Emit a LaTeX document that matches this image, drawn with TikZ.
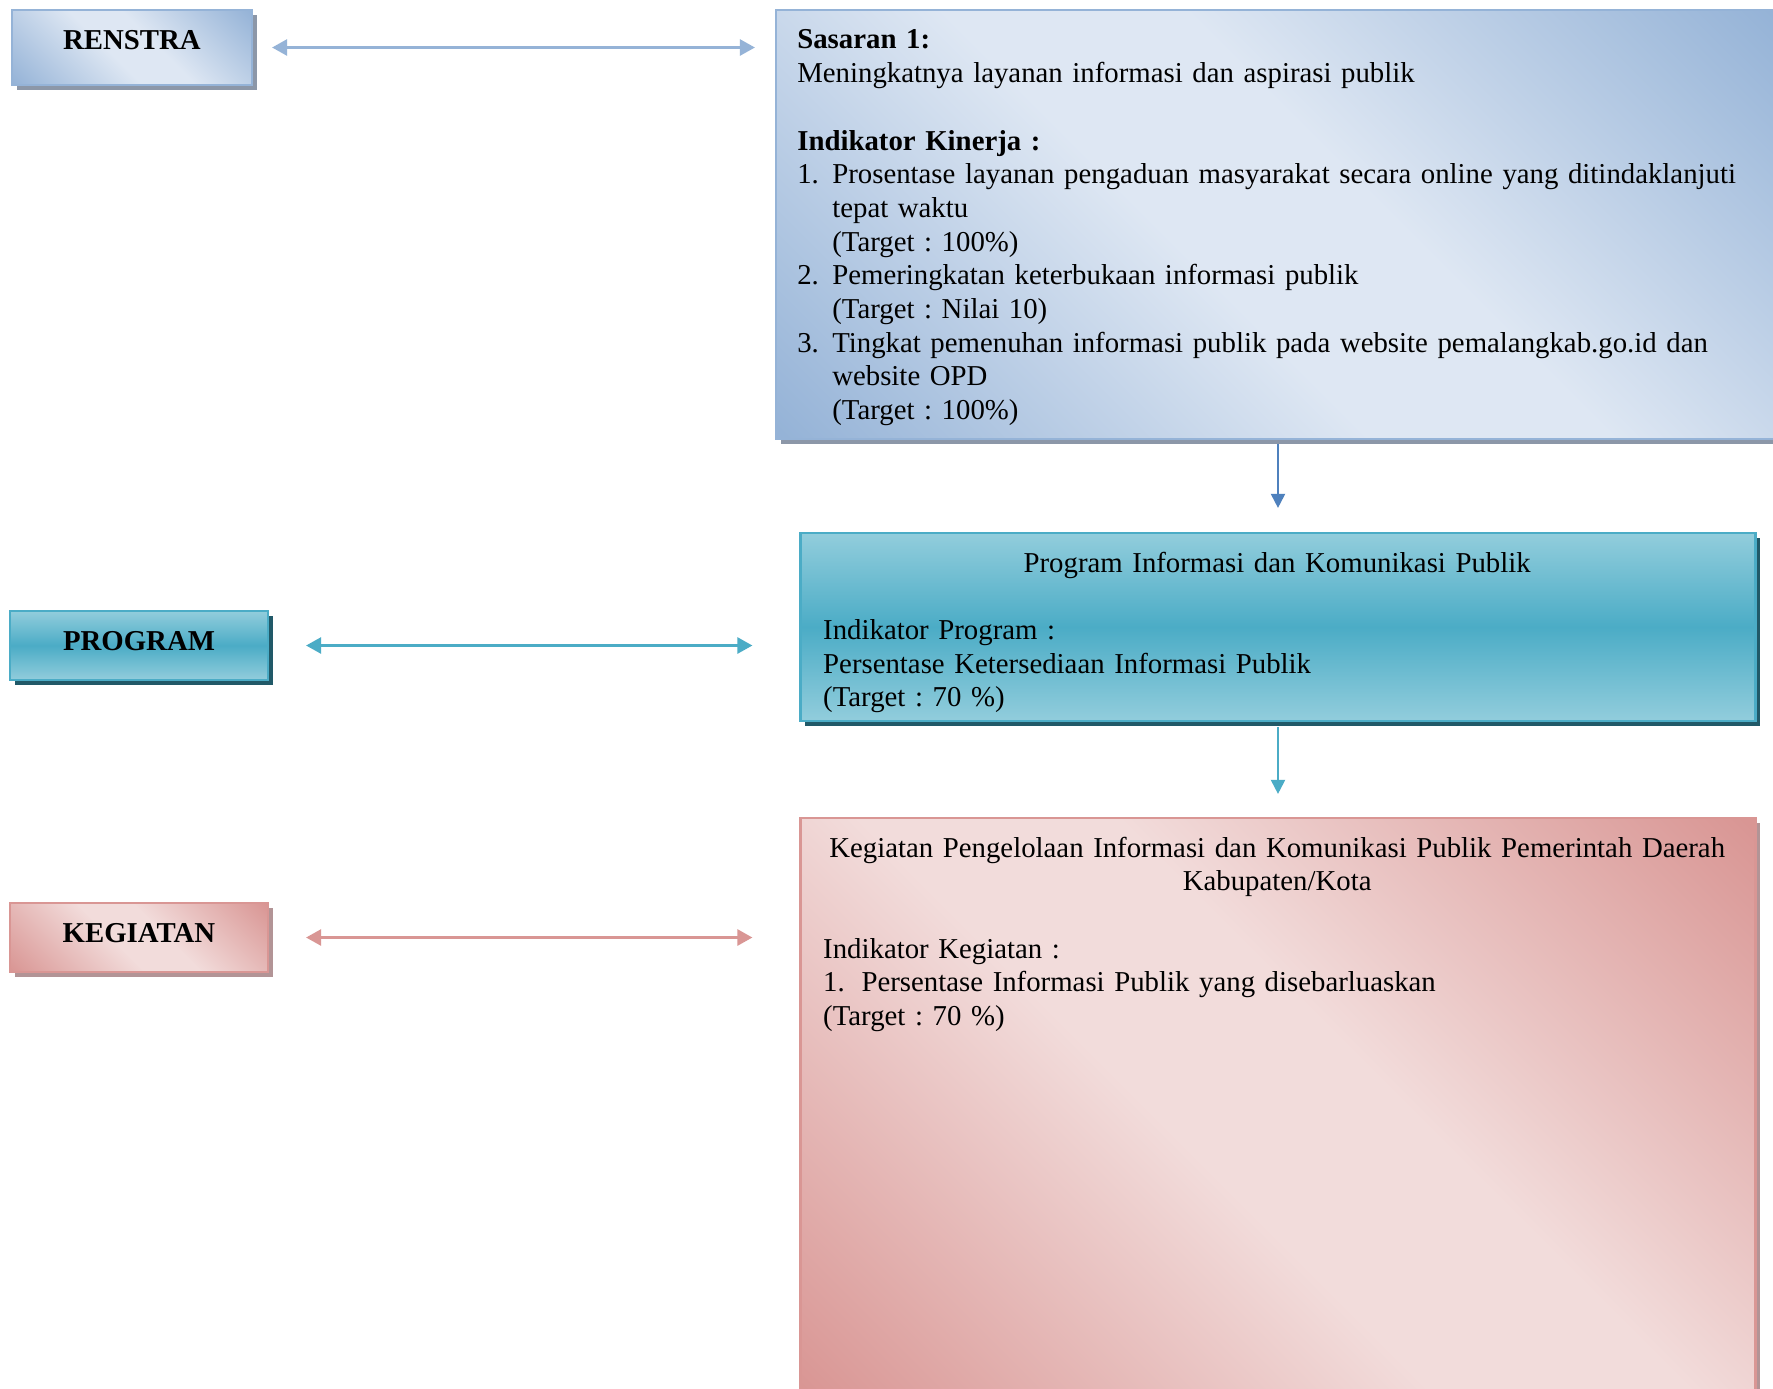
\documentclass[tikz,border=0pt]{standalone}
\usepackage{fontspec}
\setmainfont{Liberation Serif}
\usetikzlibrary{arrows.meta, shadows, calc}

\definecolor{renblue}{RGB}{149,179,215}
\definecolor{renlight}{RGB}{222,231,243}
\definecolor{rendeep}{RGB}{79,129,189}
\definecolor{renshadow}{RGB}{140,151,168}
\definecolor{progteal}{RGB}{75,172,198}
\definecolor{proglight}{RGB}{146,205,220}
\definecolor{progshadow}{RGB}{33,89,104}
\definecolor{kegpink}{RGB}{217,150,148}
\definecolor{keglight}{RGB}{242,220,219}
\definecolor{kegshadow}{RGB}{178,148,150}

\pgfdeclarehorizontalshading{renshade}{100bp}{color(0bp)=(renblue); color(15bp)=(renblue); color(44bp)=(renlight); color(56bp)=(renlight); color(85bp)=(renblue); color(100bp)=(renblue)}
\pgfdeclarehorizontalshading{kegshade}{100bp}{color(0bp)=(kegpink); color(15bp)=(kegpink); color(44bp)=(keglight); color(56bp)=(keglight); color(85bp)=(kegpink); color(100bp)=(kegpink)}
\pgfdeclareverticalshading{progshade}{100bp}{color(0bp)=(proglight); color(25bp)=(proglight); color(50bp)=(progteal); color(75bp)=(proglight); color(100bp)=(proglight)}

\begin{document}
\begin{tikzpicture}[x=0.5pt, y=-0.5pt,
    font=\fontsize{14.4pt}{16.85pt}\selectfont\frenchspacing,
    tab/.style={draw, line width=1.1pt, inner sep=0pt, font=\fontsize{14.4pt}{16.85pt}\selectfont\bfseries, text height=10pt, text depth=8pt},
    lowtab/.style={tab, text height=12pt, text depth=7.5pt},
    panel/.style={draw, line width=1.1pt, inner sep=0pt},
    renbox/.style={shade, shading=renshade, shading angle=45, draw=renblue, drop shadow={shadow xshift=2.3pt, shadow yshift=-2.3pt, fill=renshadow, opacity=1}},
    progbox/.style={shade, shading=progshade, draw=progteal, drop shadow={shadow xshift=2.3pt, shadow yshift=-2.3pt, fill=progshadow, opacity=1}},
    kegbox/.style={shade, shading=kegshade, shading angle=45, draw=kegpink, drop shadow={shadow xshift=2.3pt, shadow yshift=-2.3pt, fill=kegshadow, opacity=1}},
    boxtext/.style={anchor=north west, inner sep=0pt, align=left},
    link/.style={{Triangle[length=7.5pt,width=8pt]}-{Triangle[length=7.5pt,width=8pt]}, line width=1.3pt},
    flowdown/.style={-{Triangle[length=7pt,width=7pt]}, line width=1pt}]

    \useasboundingbox[fill=white] (0,0) rectangle (1773,1388);

    % Level labels
    \node[tab, renbox, minimum width=120pt, minimum height=37.5pt] (renstra) at (132,47.5) {RENSTRA};
    \node[lowtab, progbox, minimum width=129pt, minimum height=34.5pt] (program) at (139,645.5) {PROGRAM};
    \node[lowtab, kegbox, minimum width=129pt, minimum height=34.5pt] (kegiatan) at (139,937.5) {KEGIATAN};

    % Sasaran
    \node[panel, renbox, minimum width=502pt, minimum height=214.5pt] (sasaran) at (1278,224.5) {};
    \node[boxtext, text width=490pt] (sastext) at ([xshift=11pt, yshift=-10.3pt]sasaran.north west) {\parindent=0pt
        \textbf{Sasaran 1:}\\
        Meningkatnya layanan informasi dan aspirasi publik\\[16.85pt]
        \textbf{Indikator Kinerja :}\par
        {\leftskip=17.5pt \leavevmode\llap{\makebox[17.5pt][l]{1.}}Prosentase layanan pengaduan masyarakat secara online yang ditindaklanjuti\\
        tepat waktu\\
        (Target : 100\%)\par}
        {\leftskip=17.5pt \leavevmode\llap{\makebox[17.5pt][l]{2.}}Pemeringkatan keterbukaan informasi publik\\
        (Target : Nilai 10)\par}
        {\leftskip=17.5pt \leavevmode\llap{\makebox[17.5pt][l]{3.}}Tingkat pemenuhan informasi publik pada website pemalangkab.go.id dan\\
        website OPD\\
        (Target : 100\%)\par}};

    % Program
    \node[panel, progbox, minimum width=477.5pt, minimum height=94pt] (progbody) at (1278,627) {};
    \node[boxtext, text width=454pt] (progtext) at ([xshift=11.7pt, yshift=-9.8pt]progbody.north west) {\parindent=0pt
        {\centering Program Informasi dan Komunikasi Publik\par}
        \vspace{16.85pt}
        Indikator Program :\\
        Persentase Ketersediaan Informasi Publik\\
        (Target : 70 \%)};

    % Kegiatan
    \node[panel, kegbox, minimum width=477.5pt, minimum height=290pt] (kegbody) at (1278,1108) {};
    \node[boxtext, text width=454pt] (kegtext) at ([xshift=11.7pt, yshift=-9.8pt]kegbody.north west) {\parindent=0pt
        {\centering Kegiatan Pengelolaan Informasi dan Komunikasi Publik Pemerintah Daerah\\
        Kabupaten/Kota\par}
        \vspace{16.85pt}
        Indikator Kegiatan :\\
        \makebox[19.2pt][l]{1.}Persentase Informasi Publik yang disebarluaskan\\
        (Target : 70 \%)};

    % Horizontal links
    \draw[link, renblue, shorten <=9.5pt, shorten >=10pt] (renstra.east) -- (renstra.east -| sasaran.west);
    \draw[link, progteal, shorten <=18.5pt, shorten >=23.5pt] (program.east) -- (program.east -| progbody.west);
    \draw[link, kegpink, shorten <=18.5pt, shorten >=23.5pt] (kegiatan.east) -- (kegiatan.east -| kegbody.west);

    % Flow down
    \draw[flowdown, rendeep, shorten <=2pt, shorten >=12pt] (sasaran.south) -- (progbody.north);
    \draw[flowdown, progteal, shorten <=2.5pt, shorten >=11.5pt] (progbody.south) -- (kegbody.north);

\end{tikzpicture}
\end{document}
